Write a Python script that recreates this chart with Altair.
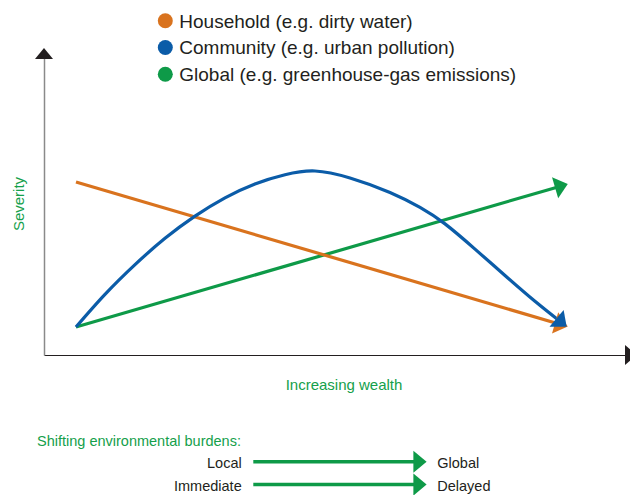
import altair as alt
import pandas as pd

# ---------------- data ----------------
series_names = [
    "Household (e.g. dirty water)",
    "Community (e.g. urban pollution)",
    "Global (e.g. greenhouse-gas emissions)",
]
series_colors = ["#D9731E", "#0B5CA8", "#0E9A48"]

wealth_household = [5.44, 88.0]
severity_household = [57.1, 10.0]

wealth_community = [5.44, 10.37, 15.48, 20.58, 25.68, 30.78, 35.88, 40.99, 46.09,
                    52.04, 58.84, 63.95, 68.20, 73.30, 78.40, 83.50, 88.03]
severity_community = [9.24, 20.0, 29.83, 38.51, 45.84, 51.88, 56.47, 59.50, 60.73,
                      58.42, 53.66, 48.71, 43.27, 34.95, 26.24, 17.72, 10.69]

wealth_global = [5.44, 88.0]
severity_global = [9.24, 55.8]

x_title = "Increasing wealth"
y_title = "Severity"

burden_title = "Shifting environmental burdens:"
burden_from = ["Local", "Immediate"]
burden_to = ["Global", "Delayed"]

# ---------------- styles ----------------
FONT = "Liberation Sans, Arial, Helvetica, sans-serif"
GREEN_TEXT = "#15A04B"
DARK = "#231F20"
ARROW = "M-0.6,-1L0.6,0L-0.6,1Z"
ARROW_UP = "M0,-0.6L1,0.6L-1,0.6Z"
arrow_angle = {series_names[0]: 16.4, series_names[1]: 40.0, series_names[2]: 343.8}
draw_order = [series_names[2], series_names[0], series_names[1]]  # green, orange, blue on top

series_data = {
    series_names[0]: (wealth_household, severity_household),
    series_names[1]: (wealth_community, severity_community),
    series_names[2]: (wealth_global, severity_global),
}

rows = []
for name in series_names:
    xs, ys = series_data[name]
    for i, (xv, yv) in enumerate(zip(xs, ys)):
        rows.append({"series": name, "wealth": xv, "severity": yv, "order": i})
lines_df = pd.DataFrame(rows)

heads_df = pd.DataFrame({
    "series": series_names,
    "wealth": [series_data[s][0][-1] for s in series_names],
    "severity": [series_data[s][1][-1] for s in series_names],
    "angle": [arrow_angle[s] for s in series_names],
})

legend_df = pd.DataFrame({"series": series_names, "idx": list(range(len(series_names)))})
burden_df = pd.DataFrame({"src": burden_from, "dst": burden_to, "idx": list(range(len(burden_from)))})

xscale = alt.Scale(domain=[0, 100], range=[0, 588], nice=False, zero=False)
yscale = alt.Scale(domain=[0, 100], nice=False, zero=False)
xaxis = alt.Axis(title=x_title, labels=False, ticks=False, grid=False,
                 domainColor=DARK, domainWidth=1.2,
                 titleColor=GREEN_TEXT, titleFont=FONT, titleFontSize=15,
                 titleFontWeight="normal", titlePadding=22, titleX=299.5,
                 titleAlign="center")
yaxis = alt.Axis(title=y_title, labels=False, ticks=False, grid=False,
                 domainColor="#8A8A8A", domainWidth=1.5,
                 titleColor=GREEN_TEXT, titleFont=FONT, titleFontSize=15,
                 titleFontWeight="normal", titlePadding=18)
color_scale = alt.Scale(domain=series_names, range=series_colors)

line_layers = []
for name in draw_order:
    line_layers.append(
        alt.Chart(lines_df).transform_filter(alt.datum.series == name)
        .mark_line(strokeWidth=3.2, interpolate="natural", strokeCap="butt").encode(
            x=alt.X("wealth:Q", scale=xscale, axis=xaxis),
            y=alt.Y("severity:Q", scale=yscale, axis=yaxis),
            stroke=alt.Stroke("series:N", scale=color_scale, legend=None),
            order=alt.Order("order:Q"),
        )
    )

heads = alt.Chart(heads_df).mark_point(shape=ARROW, filled=True, size=484, opacity=1, strokeWidth=0).encode(
    x=alt.X("wealth:Q", scale=xscale, axis=xaxis),
    y=alt.Y("severity:Q", scale=yscale, axis=yaxis),
    fill=alt.Fill("series:N", scale=color_scale, legend=None),
    angle=alt.Angle("angle:Q", scale=None),
)

# legend drawn as marks
lbase = alt.Chart(legend_df).transform_calculate(
    cy="-31.2 + datum.idx * 26.7", ty="-24.5 + datum.idx * 26.7")
leg_dots = lbase.mark_point(shape="circle", filled=True, size=225, opacity=1, strokeWidth=0).encode(
    x=alt.value(121.3), y=alt.Y("cy:Q", scale=None),
    fill=alt.Fill("series:N", scale=color_scale, legend=None))
leg_text = lbase.mark_text(align="left", baseline="alphabetic", font=FONT, fontSize=19, color=DARK).encode(
    x=alt.value(135.3), y=alt.Y("ty:Q", scale=None), text="series:N")

one = alt.Data(values=[{}])
x_arrow = alt.Chart(one).mark_point(shape=ARROW, filled=True, size=400, opacity=1,
                                    color=DARK, strokeWidth=0).encode(
    x=alt.value(587), y=alt.value(303))
y_arrow = alt.Chart(one).mark_point(shape=ARROW_UP, filled=True, size=324, opacity=1,
                                    color=DARK, strokeWidth=0).encode(
    x=alt.value(0), y=alt.value(1.5))

b_title = alt.Chart(one).mark_text(text=burden_title, align="left", baseline="alphabetic",
                                   font=FONT, fontSize=14.5, color=GREEN_TEXT).encode(
    x=alt.value(-7), y=alt.value(394))

bbase = alt.Chart(burden_df).transform_calculate(
    ay="409.7 + datum.idx * 22.9", ty="416.3 + datum.idx * 22.7")

b_rules = bbase.mark_rule(strokeWidth=3.5, color="#0E9A48").encode(
    x=alt.value(209.3), x2=alt.value(376), y=alt.Y("ay:Q", scale=None))
b_heads = bbase.mark_point(shape=ARROW, filled=True, size=484, opacity=1,
                           color="#0E9A48", strokeWidth=0).encode(
    x=alt.value(376), y=alt.Y("ay:Q", scale=None))
b_src = bbase.mark_text(align="right", baseline="alphabetic", font=FONT, fontSize=14.5, color=DARK).encode(
    x=alt.value(197.7), y=alt.Y("ty:Q", scale=None), text="src:N")
b_dst = bbase.mark_text(align="left", baseline="alphabetic", font=FONT, fontSize=14.5, color=DARK).encode(
    x=alt.value(393.3), y=alt.Y("ty:Q", scale=None), text="dst:N")

chart = alt.layer(*line_layers, heads, leg_dots, leg_text, x_arrow, y_arrow,
                  b_title, b_rules, b_heads, b_src, b_dst).properties(
    width=586, height=303,
    autosize=alt.AutoSizeParams(type="none"),
    padding={"left": 36, "top": 44, "right": 0, "bottom": 140},
).configure_view(stroke="transparent")

chart.save("out.html", embed_options={"renderer": "svg", "actions": False})
